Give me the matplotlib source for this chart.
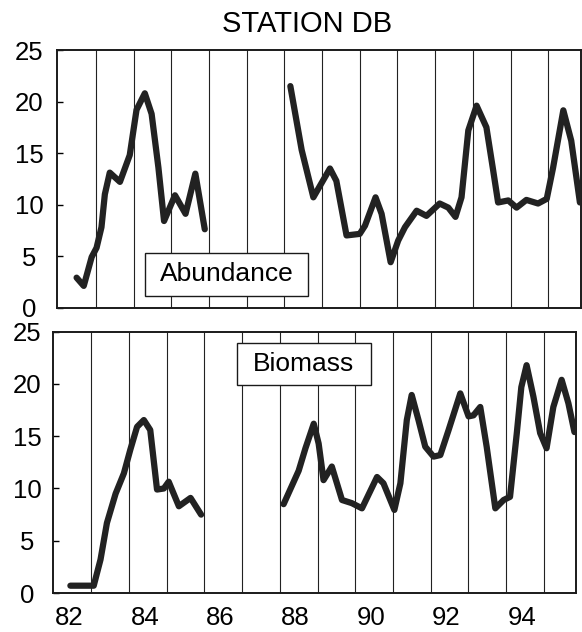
import numpy as np
import matplotlib
matplotlib.use("Agg")
import matplotlib.pyplot as plt
from matplotlib.patches import Rectangle

plt.rcParams['font.family'] = ['Liberation Sans', 'DejaVu Sans']

# data (year, value); nan = gap in the record (86-87)
abund_year = [82.49, 82.68, 82.89, 83.02, 83.15, 83.24, 83.37, 83.64, 83.90, 84.08,
              84.30, 84.48, 84.66, 84.81, 85.10, 85.38, 85.64, 85.89,
              np.nan,
              88.16, 88.46, 88.77, 89.21, 89.38, 89.65, 90.00, 90.14, 90.42, 90.58,
              90.82, 91.02, 91.20, 91.51, 91.77, 92.12, 92.35, 92.54, 92.70, 92.88,
              93.10, 93.36, 93.54, 93.67, 93.94, 94.16, 94.42, 94.73, 94.96, 95.13,
              95.40, 95.61, 95.84]
abund_val = [2.9, 2.1, 4.9, 5.8, 7.8, 11.0, 13.1, 12.2, 14.8, 19.2,
             20.8, 18.8, 13.6, 8.4, 10.9, 9.1, 13.0, 7.6,
             np.nan,
             21.5, 15.3, 10.7, 13.5, 12.3, 7.0, 7.15, 7.95, 10.7, 9.1,
             4.4, 6.5, 7.8, 9.4, 8.9, 10.1, 9.7, 8.8, 10.7, 17.2,
             19.6, 17.5, 13.3, 10.2, 10.4, 9.7, 10.45, 10.1, 10.55, 13.6,
             19.15, 16.2, 10.2]

biom_year = [82.44, 83.06, 83.24, 83.41, 83.64, 83.86, 84.03, 84.21, 84.39, 84.56,
             84.74, 84.92, 85.05, 85.32, 85.63, 85.91,
             np.nan,
             88.10, 88.50, 88.68, 88.90, 89.03, 89.16, 89.38, 89.65, 89.91, 90.18,
             90.58, 90.75, 91.04, 91.20, 91.37, 91.50, 91.68, 91.86, 92.08, 92.26,
             92.48, 92.79, 93.01, 93.14, 93.32, 93.49, 93.72, 93.94, 94.11, 94.29,
             94.41, 94.55, 94.73, 94.91, 95.08, 95.26, 95.48, 95.66, 95.82]
biom_val = [0.7, 0.7, 3.2, 6.7, 9.5, 11.45, 13.7, 15.9, 16.55, 15.6,
            9.9, 10.0, 10.65, 8.3, 9.1, 7.5,
            np.nan,
            8.5, 11.7, 13.85, 16.2, 14.3, 10.8, 12.1, 8.9, 8.6, 8.1,
            11.1, 10.5, 7.95, 10.5, 16.55, 18.95, 16.55, 14.0, 13.05, 13.2,
            15.6, 19.1, 16.9, 17.0, 17.8, 14.0, 8.1, 8.9, 9.2, 15.3,
            19.7, 21.8, 18.8, 15.3, 13.85, 17.8, 20.4, 18.15, 15.4]

year_labels = ['82', '84', '86', '88', '90', '92', '94']
label_years = [82, 84, 86, 88, 90, 92, 94]
grid_years = list(range(83, 96))
y_ticks = [0, 5, 10, 15, 20, 25]

fig = plt.figure(figsize=(5.82, 6.32), dpi=100)
ax1 = fig.add_axes([0.0979, 0.5134, 0.8998, 0.4074])
ax2 = fig.add_axes([0.0905, 0.0617, 0.8991, 0.4134])

line_kw = dict(color='#222222', lw=4.5, solid_capstyle='round', solid_joinstyle='round', zorder=4)
ax1.plot(abund_year, abund_val, **line_kw)
ax2.plot(biom_year, biom_val, **line_kw)

for ax in (ax1, ax2):
    ax.set_xlim(81.97, 95.86)
    ax.set_ylim(0, 25)
    for yr in grid_years:
        ax.axvline(yr, color='#222222', lw=0.8, zorder=1)
    ax.set_yticks(y_ticks)
    ax.tick_params(axis='y', direction='in', length=4, width=1, labelsize=18.5, pad=20)
    for lbl in ax.get_yticklabels():
        lbl.set_horizontalalignment('center')
    for sp in ax.spines.values():
        sp.set_linewidth(1.4)
        sp.set_color('#1a1a1a')

ax1.set_xticks([])
ax2.set_xticks([y + 0.42 for y in label_years])
ax2.set_xticklabels(year_labels)
ax2.tick_params(axis='x', length=0, labelsize=18.5, pad=9)
ax2.tick_params(axis='y', pad=18.5)

# label boxes
ax1.add_patch(Rectangle((84.30, 1.14), 4.34, 4.16, facecolor='white',
                        edgecolor='#1a1a1a', lw=1.0, zorder=3))
ax1.text(86.47, 3.22, 'Abundance', ha='center', va='center', fontsize=19, zorder=5)
ax2.add_patch(Rectangle((86.85, 19.86), 3.58, 4.06, facecolor='white',
                        edgecolor='#1a1a1a', lw=1.0, zorder=3))
ax2.text(88.64, 21.9, 'Biomass', ha='center', va='center', fontsize=19, zorder=5)

fig.text(307 / 582, 1 - 24 / 632, 'STATION DB', ha='center', va='center', fontsize=21)

fig.savefig('out.png', dpi=100)
